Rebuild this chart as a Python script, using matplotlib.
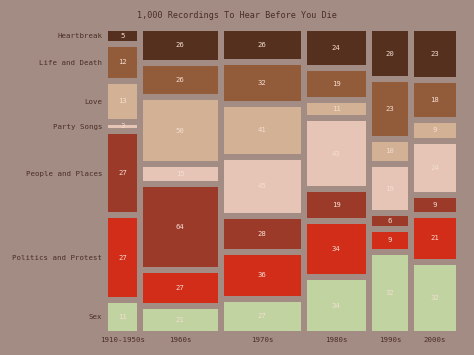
import numpy as np
import matplotlib
matplotlib.use("Agg")
import matplotlib.pyplot as plt
from matplotlib.patches import Rectangle

decades = ["1910-1950s", "1960s", "1970s", "1980s", "1990s", "2000s"]
themes = ["Heartbreak", "Life and Death", "Love", "Party Songs",
          "People and Places", "Politics and Protest", "Sex"]
# counts per theme, one row per decade (same order as themes)
c_1910 = [5, 12, 13, 3, 27, 27, 11]
c_1960 = [26, 26, 50, 15, 64, 27, 21]
c_1970 = [26, 32, 41, 45, 28, 36, 27]
c_1980 = [24, 19, 11, 43, 19, 34, 34]
c_1990 = [20, 23, 10, 19, 6, 9, 32]
c_2000 = [23, 18, 9, 24, 9, 21, 32]
counts = np.array([c_1910, c_1960, c_1970, c_1980, c_1990, c_2000])

colors = ["#55301f", "#925b39", "#d3b194", "#e6c5b6",
          "#9c3a29", "#d12d19", "#c0d3a0"]
bg = "#a38c84"
txt = "#4b2e26"
lab = "#f5ddd2"

W, H = 474, 355
fig = plt.figure(figsize=(W / 100, H / 100), dpi=100, facecolor=bg)
x0, x1, y0, y1 = 105, 459, 28, 334   # pixel box of the mosaic
ax = fig.add_axes([x0 / W, 1 - y1 / H, (x1 - x0) / W, (y1 - y0) / H])
ax.set_facecolor(bg)
for s in ax.spines.values():
    s.set_visible(False)

totals = counts.sum(axis=1)
grand = totals.sum()
ax.set_xlim(0, grand)
ax.set_ylim(1, 0)
gap = 6
gx = gap * grand / (x1 - x0)
gy = gap / (y1 - y0)

xcenters = []
ycenters = None
left = 0
for i, row in enumerate(counts):
    w = totals[i]
    xcenters.append(left + w / 2)
    top = 0
    yc = []
    for j, v in enumerate(row):
        h = v / w
        ax.add_patch(Rectangle((left + gx / 2, top + gy / 2), w - gx, h - gy,
                               facecolor=colors[j], edgecolor="none"))
        ax.text(left + w / 2, top + h / 2, str(v), ha="center", va="center",
                fontsize=5.2, color=lab, family="DejaVu Sans Mono")
        yc.append(top + h / 2)
        top += h
    if ycenters is None:
        ycenters = yc
    left += w

ax.set_xticks(xcenters)
ax.set_xticklabels(decades)
ax.set_yticks(ycenters)
ax.set_yticklabels(themes)
ax.tick_params(length=0, pad=2, labelsize=5.3, colors=txt)
for t in ax.get_xticklabels() + ax.get_yticklabels():
    t.set_family("DejaVu Sans Mono")

fig.text(0.5, 1 - 16 / H, "1,000 Recordings To Hear Before You Die",
         ha="center", va="center", fontsize=6.1, color=txt,
         family="DejaVu Sans Mono")

fig.savefig("out.png", dpi=100, facecolor=bg)
